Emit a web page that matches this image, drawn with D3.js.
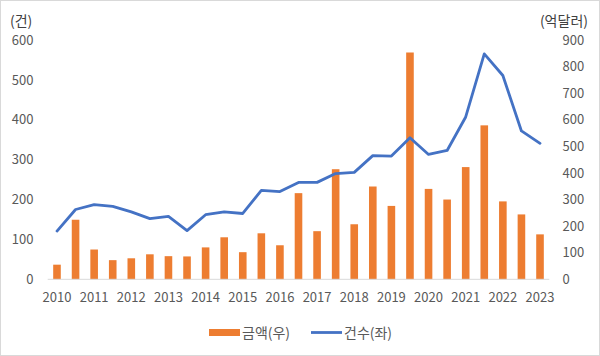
<!DOCTYPE html>
<html><head><meta charset="utf-8">
<script src="https://cdn.jsdelivr.net/npm/d3@7"></script>
<style>body{margin:0;background:#fff}svg{display:block}</style>
</head><body><svg id="c" width="600" height="356"></svg>
<script>
const categories = ["2010","2010H2","2011","2011H2","2012","2012H2","2013","2013H2","2014","2014H2","2015","2015H2","2016","2016H2","2017","2017H2","2018","2018H2","2019","2019H2","2020","2020H2","2021","2021H2","2022","2022H2","2023"];
const tickLabels = ["2010","2011","2012","2013","2014","2015","2016","2017","2018","2019","2020","2021","2022","2023"];
const amount = [55,224,112,72,79,94,87,86,120,158,102,173,128,324,181,414,207,349,276,853,340,300,422,579,293,244,169];
const count = [121,175,187,183,169,152,158,122,162,169,165,223,220,243,243,265,268,310,309,355,313,323,407,565,511,372,341];
const leftTicks = [0,100,200,300,400,500,600];
const rightTicks = [0,100,200,300,400,500,600,700,800,900];

const svg = d3.select("#c");
const font = "'Noto Sans CJK KR','Noto Sans',sans-serif";
svg.append("rect").attr("x",0.5).attr("y",0.5).attr("width",599).attr("height",355).attr("fill","#fff").attr("stroke","#d9d9d9");

const x = d3.scaleBand().domain(categories).range([47.7,549.3]);
const yL = d3.scaleLinear().domain([0,600]).range([279.3,40]);
const yR = d3.scaleLinear().domain([0,900]).range([279.3,40]);

const bw = 7.6;
svg.append("g").selectAll("rect").data(amount).join("rect")
  .attr("x",(d,i)=>x(categories[i])+x.bandwidth()/2-bw/2)
  .attr("width",bw)
  .attr("y",d=>yR(d))
  .attr("height",d=>yR(0)-yR(d))
  .attr("fill","#ED7D31");

svg.append("line").attr("x1",47.7).attr("x2",549.3).attr("y1",yL(0)).attr("y2",yL(0)).attr("stroke","#d9d9d9").attr("stroke-width",1);

const line = d3.line().x((d,i)=>x(categories[i])+x.bandwidth()/2).y(d=>yL(d));
svg.append("path").datum(count).attr("d",line).attr("fill","none").attr("stroke","#4472C4").attr("stroke-width",2.8).attr("stroke-linejoin","round").attr("stroke-linecap","round");

const axL = d3.axisLeft(yL).tickValues(leftTicks).tickSize(0).tickPadding(0);
const gL = svg.append("g").attr("transform","translate(33.5,0)").call(axL);
const axR = d3.axisRight(yR).tickValues(rightTicks).tickSize(0).tickPadding(0);
const gR = svg.append("g").attr("transform","translate(562.5,0)").call(axR);
const xTickVals = categories.filter((c,i)=>i%2===0);
const axB = d3.axisBottom(x).tickValues(xTickVals).tickFormat((d,i)=>tickLabels[i]).tickSize(0).tickPadding(0);
const gB = svg.append("g").attr("transform","translate(0,292.5)").call(axB);
[gL,gR,gB].forEach(g=>{
  g.select(".domain").remove();
  g.selectAll("text").attr("fill","#595959").style("font-family",font).style("font-size","13px");
});

svg.append("text").attr("x",10).attr("y",26).text("(건)").attr("fill","#404040").style("font-family",font).style("font-size","14px");
svg.append("text").attr("x",588).attr("y",26).attr("text-anchor","end").text("(억달러)").attr("fill","#404040").style("font-family",font).style("font-size","14px");

const lg = svg.append("g");
lg.append("rect").attr("x",209).attr("y",329).attr("width",31).attr("height",7).attr("fill","#ED7D31");
lg.append("text").attr("x",242).attr("y",338).text("금액(우)").attr("fill","#595959").style("font-family",font).style("font-size","14px");
lg.append("line").attr("x1",311).attr("x2",342).attr("y1",332.5).attr("y2",332.5).attr("stroke","#4472C4").attr("stroke-width",2.8);
lg.append("text").attr("x",344).attr("y",338).text("건수(좌)").attr("fill","#595959").style("font-family",font).style("font-size","14px");
</script></body></html>
